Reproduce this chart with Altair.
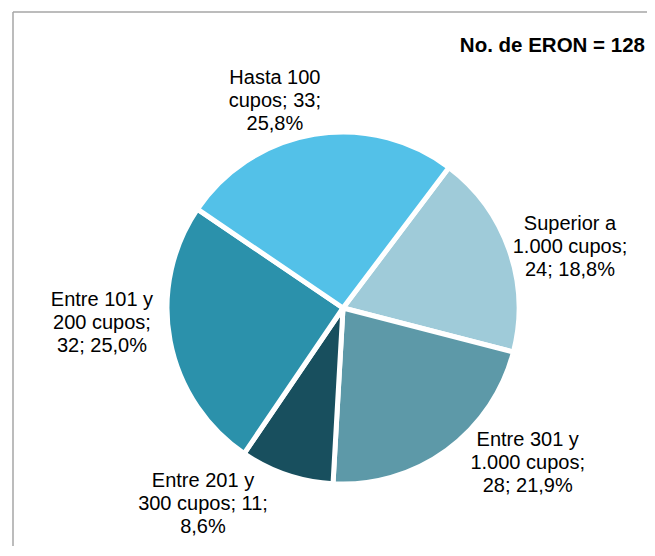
import math
import altair as alt
import pandas as pd

# ---- data (clockwise order, starting at the Hasta 100 / Superior boundary) ----
categories = [
    "Superior a 1.000 cupos",
    "Entre 301 y 1.000 cupos",
    "Entre 201 y 300 cupos",
    "Entre 101 y 200 cupos",
    "Hasta 100 cupos",
]
counts = [24, 28, 11, 32, 33]
labels = [
    "Superior a\n1.000 cupos;\n24; 18,8%",
    "Entre 301 y\n1.000 cupos;\n28; 21,9%",
    "Entre 201 y\n300 cupos; 11;\n8,6%",
    "Entre 101 y\n200 cupos;\n32; 25,0%",
    "Hasta 100\ncupos; 33;\n25,8%",
]
colors = ["#9FCBD9", "#5D99A8", "#184F5E", "#2B91AB", "#53C1E8"]
title_text = "No. de ERON = 128"

df = pd.DataFrame({"cat": categories, "n": counts, "label": labels, "idx": list(range(len(categories)))})
total = sum(counts)

# ---- layout / style ----
W, H = 639, 538
CX, CY = 335, 300
R = 176
START = math.radians(37)
FONT = "Liberation Sans"
LINE_H = 23

# label placement: (radius, theta offset in degrees from slice middle)
label_style = {
    "Superior a 1.000 cupos": (235, 4.25),
    "Entre 301 y 1.000 cupos": (241, -13.9),
    "Entre 201 y 300 cupos": (241, 16.8),
    "Entre 101 y 200 cupos": (241.5, 7.2),
    "Hasta 100 cupos": (218, -8.8),
}

theta_scale = alt.Scale(domain=[0, total], range=[START, START + 2 * math.pi])

base = alt.Chart(df)

pie = base.mark_arc(
    radius=R, stroke="white", strokeWidth=5, strokeJoin="round"
).encode(
    theta=alt.Theta("n:Q", stack=True, scale=theta_scale),
    color=alt.Color("cat:N", scale=alt.Scale(domain=categories, range=colors), legend=None),
    order=alt.Order("idx:Q"),
    x=alt.value(CX),
    y=alt.value(CY),
)

text_layers = []
for cat in categories:
    r, off = label_style[cat]
    t = (
        base.transform_window(cum="sum(n)", sort=[alt.SortField("idx")], frame=[None, 0])
        .transform_calculate(mid="datum.cum - datum.n / 2")
        .transform_filter(alt.datum.cat == cat)
        .mark_text(
            radius=r,
            thetaOffset=math.radians(off),
            font=FONT,
            fontSize=20,
            lineBreak="\n",
            lineHeight=LINE_H,
            align="center",
            baseline="middle",
            dy=-LINE_H,
            color="#000000",
        )
        .encode(
            theta=alt.Theta("mid:Q", stack=False, scale=theta_scale),
            text="label:N",
            x=alt.value(CX),
            y=alt.value(CY),
        )
    )
    text_layers.append(t)

one = alt.Chart(pd.DataFrame({"t": [title_text]}))

frame_top = one.mark_rule(stroke="#A6A6A6", strokeWidth=1.5).encode(
    x=alt.value(5), x2=alt.value(W), y=alt.value(4)
)
frame_left = one.mark_rule(stroke="#A6A6A6", strokeWidth=1.5).encode(
    x=alt.value(5), y=alt.value(4), y2=alt.value(H)
)

title = one.mark_text(
    font=FONT, fontSize=20.5, fontWeight="bold", align="right", baseline="alphabetic", color="#000000"
).encode(text="t:N", x=alt.value(637), y=alt.value(44))

chart = (
    alt.layer(frame_top, frame_left, pie, *text_layers, title)
    .properties(width=W, height=H, autosize=alt.AutoSizeParams(type="none"), padding=0)
    .configure_view(stroke=None)
)

chart.save("out.html", embed_options={"renderer": "svg", "actions": False})
